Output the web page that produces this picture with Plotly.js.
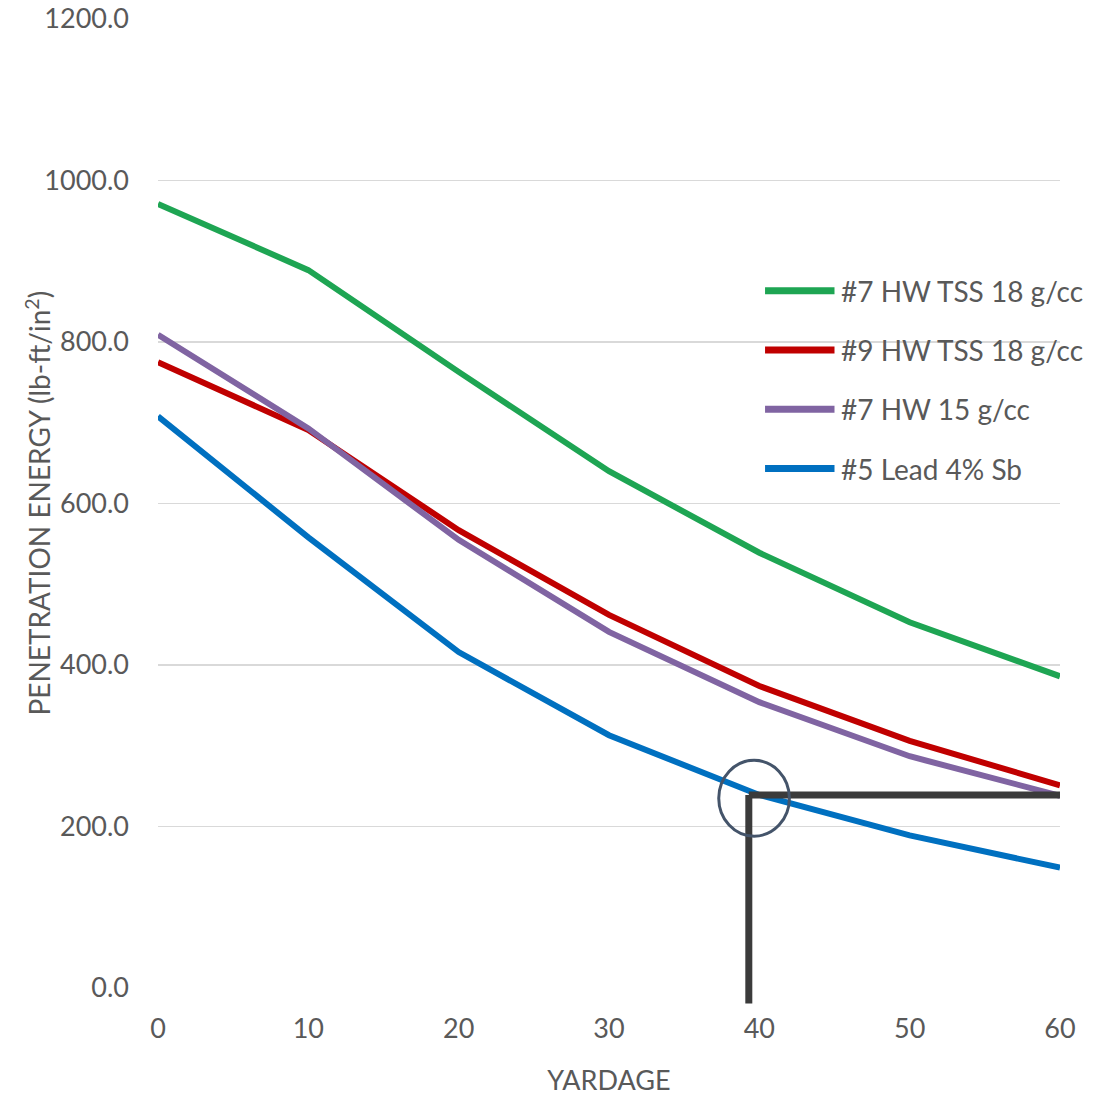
<!DOCTYPE html>
<html>
<head>
<meta charset="utf-8">
<script src="https://cdn.plot.ly/plotly-3.0.1.min.js"></script>
<style>html,body{margin:0;padding:0;background:#fff;}#chart{width:1109px;height:1096px;}</style>
</head>
<body>
<div id="chart"></div>
<script>
const yardage = [0, 10, 20, 30, 40, 50, 60];
const seriesNames = ["#7 HW TSS 18 g/cc", "#9 HW TSS 18 g/cc", "#7 HW 15 g/cc", "#5 Lead 4% Sb"];
const hwTss7 = [971, 889, 763, 640, 539, 453, 386];
const hwTss9 = [775, 691, 567, 462, 374, 306, 251];
const hw15_7 = [809, 693, 555, 441, 354, 287, 238];
const lead5 = [708, 558, 416, 313, 239, 189, 149];
const yTicks = [0, 200, 400, 600, 800, 1000, 1200];
const xTicks = [0, 10, 20, 30, 40, 50, 60];
const xTitle = "YARDAGE";
const yTitle = "PENETRATION ENERGY (lb-ft/in<sup>2</sup>)";
const markX = 39.3;   // reference yardage
const markY = 239;    // reference energy
const yMax = 1200;

const colors = ["#1ea553", "#c00000", "#8064a2", "#0070c0"];
const seriesVals = [hwTss7, hwTss9, hw15_7, lead5];
const font = "Lato, 'Open Sans', sans-serif";
const fsize = 27;

const traces = seriesVals.map((vals, i) => ({
  x: yardage, y: vals, name: seriesNames[i], type: "scatter", mode: "lines",
  line: {color: colors[i], width: 6}, showlegend: false, hoverinfo: "x+y+name"
}));

const shapes = [
  {type: "line", xref: "x", yref: "y", x0: markX, x1: 60, y0: markY, y1: markY,
   line: {color: "#3b3b3b", width: 7}},
  {type: "line", xref: "x", yref: "paper", x0: markX, x1: markX, y0: -0.016, y1: markY / yMax,
   line: {color: "#3b3b3b", width: 7}},
  {type: "circle", xref: "x", yref: "y", x0: 37.3, x1: 42.0, y0: 188, y1: 282,
   line: {color: "#44546a", width: 3}}
];
const annotations = [
  {xref: "paper", yref: "paper", x: -0.133, y: 0.5, xanchor: "center", yanchor: "middle",
   textangle: -90, text: yTitle, showarrow: false, font: {family: font, size: 28, color: "#595959"}}
];
const legTop = 0.7196, legStep = 0.0612;
seriesNames.forEach((nm, i) => {
  const yy = legTop - i * legStep;
  shapes.push({type: "line", xref: "paper", yref: "paper", x0: 0.673, x1: 0.75, y0: yy, y1: yy,
    line: {color: colors[i], width: 7}});
  annotations.push({xref: "paper", yref: "paper", x: 0.755, y: yy, xanchor: "left", yanchor: "middle",
    text: nm, showarrow: false, font: {family: font, size: 28, color: "#595959"}});
});

const layout = {
  width: 1109, height: 1096,
  margin: {l: 158, r: 49, t: 19, b: 108},
  paper_bgcolor: "#ffffff", plot_bgcolor: "#ffffff",
  showlegend: false,
  xaxis: {
    range: [0, 60], tickvals: xTicks, ticktext: xTicks.map(String),
    showgrid: false, zeroline: false, showline: false, ticks: "",
    ticklabelstandoff: 22,
    tickfont: {family: font, size: fsize, color: "#595959"},
    title: {text: xTitle, font: {family: font, size: fsize, color: "#595959"}, standoff: 30},
    automargin: false
  },
  yaxis: {
    range: [0, yMax], tickvals: yTicks, ticktext: yTicks.map(v => v.toFixed(1)),
    showgrid: true, gridcolor: "#d9d9d9", gridwidth: 1.5, zeroline: false, showline: false, ticks: "",
    ticklabelstandoff: 28,
    tickfont: {family: font, size: fsize, color: "#595959"},
    automargin: false
  },
  shapes: shapes,
  annotations: annotations
};

Plotly.newPlot("chart", traces, layout, {displayModeBar: false, staticPlot: true});
</script>
</body>
</html>
